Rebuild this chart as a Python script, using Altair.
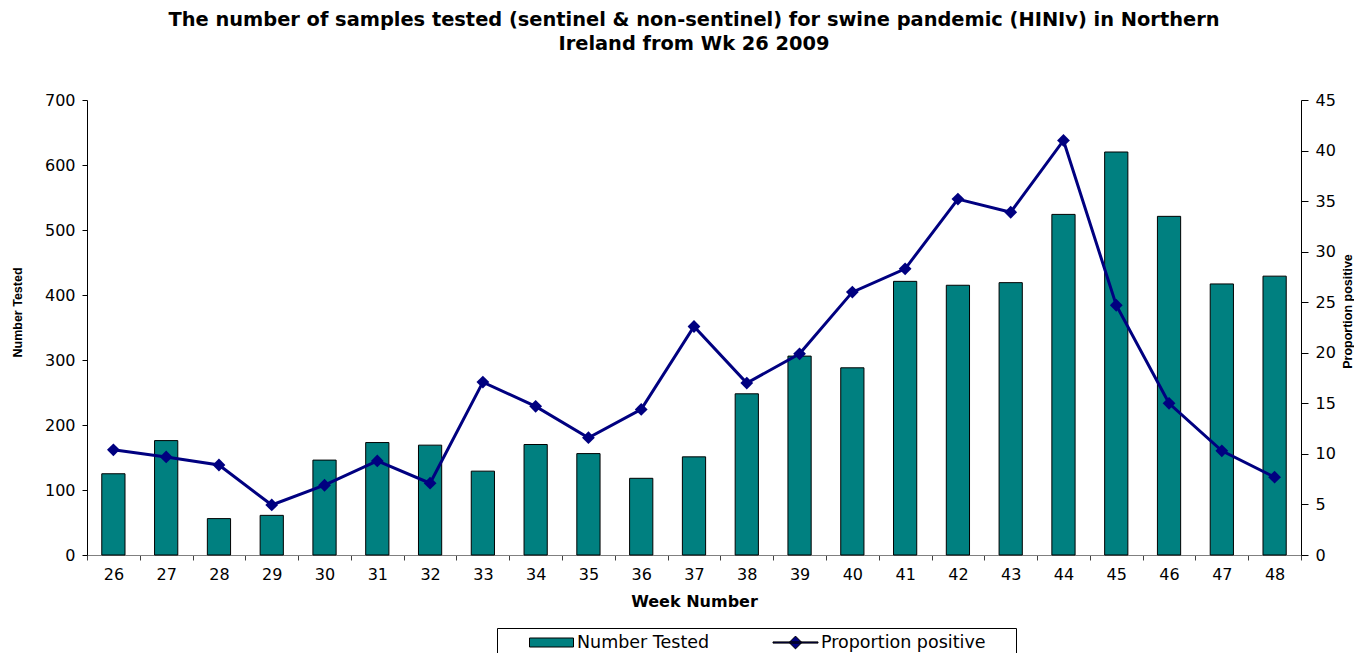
import altair as alt
import pandas as pd

weeks = [26, 27, 28, 29, 30, 31, 32, 33, 34, 35, 36, 37, 38, 39, 40, 41, 42, 43, 44, 45, 46, 47, 48]
tested = [125, 176, 56, 61, 146, 173, 169, 129, 170, 156, 118, 151, 248, 306, 288, 421, 415, 419, 524, 620, 521, 417, 429]
proportion = [10.4, 9.7, 8.9, 4.95, 6.9, 9.3, 7.1, 17.1, 14.7, 11.6, 14.4, 22.6, 17.0, 19.9, 26.0, 28.3, 35.2, 33.9, 41.0, 24.7, 15.0, 10.3, 7.7]
legend_names = ["Number Tested", "Proportion positive"]
point_key = "point"
series_colors = ["#008080", "#000080", "#000080"]
left_ticks = [0, 100, 200, 300, 400, 500, 600, 700]
right_ticks = [0, 5, 10, 15, 20, 25, 30, 35, 40, 45]
title_lines = [
    "The number of samples tested (sentinel & non-sentinel) for swine pandemic (HINIv) in Northern",
    "Ireland from Wk 26 2009",
]

df = pd.DataFrame({
    "week": weeks,
    "tested": tested,
    "proportion": proportion,
    "series": [point_key] * len(weeks),
})

LABEL_FONT = "DejaVu Sans"

# symbol shapes (unit box, drawn at size 400 -> 10px per unit)
RECT_PATH = "M-2.2,-0.45L2.2,-0.45L2.2,0.45L-2.2,0.45Z"
LINE_DIAMOND_PATH = "M-2.25,-0.06L2.25,-0.06L2.25,0.06L-2.25,0.06Z M0,-0.64L0.64,0L0,0.64L-0.64,0Z"
DIAMOND_PATH = "M0,-0.64L0.64,0L0,0.64L-0.64,0Z"

x_enc = alt.X(
    "week:O",
    scale=alt.Scale(paddingInner=0, paddingOuter=0),
    axis=alt.Axis(
        title="Week Number",
        tickBand="extent",
        labelAngle=0,
        labelFont=LABEL_FONT,
        labelFontSize=16,
        labelColor="black",
        labelPadding=6,
        tickSize=5,
        tickColor="#404040",
        domainColor="#808080",
        grid=False,
        titleFont=LABEL_FONT,
        titleFontSize=16,
        titleFontWeight="bold",
        titleColor="black",
        titleBaseline="middle",
        titleY=46,
    ),
)

right_axis = alt.Axis(
    orient="right",
    values=right_ticks,
    title="Proportion positive",
    grid=False,
    labelFont=LABEL_FONT,
    labelFontSize=16,
    labelColor="black",
    labelPadding=7,
    tickSize=7,
    tickColor="black",
    domainColor="black",
    titleFont="Liberation Sans",
    titleFontSize=12.5,
    titleFontWeight="bold",
    titleColor="black",
    titleAngle=270,
    titleBaseline="middle",
    titleAlign="center",
    titleX=46,
    titleY=211,
)

bars = alt.Chart(df).mark_bar(
    color="#008080", stroke="black", strokeWidth=1, width=alt.RelativeBandSize(0.44)
).encode(
    x=x_enc,
    y=alt.Y(
        "tested:Q",
        scale=alt.Scale(domain=[0, 700]),
        axis=alt.Axis(
            values=left_ticks,
            title="Number Tested",
            grid=False,
            labelFont=LABEL_FONT,
            labelFontSize=16,
            labelColor="black",
            labelPadding=7,
            tickSize=5,
            tickColor="black",
            domainColor="black",
            titleFont="Liberation Sans",
            titleFontSize=12.5,
            titleFontWeight="bold",
            titleColor="black",
            titleAngle=270,
            titleBaseline="middle",
            titleAlign="center",
            titleX=-70,
            titleY=212,
        ),
    ),
)

y_right = alt.Y("proportion:Q", scale=alt.Scale(domain=[0, 45]), axis=right_axis)

line = alt.Chart(df).mark_line(color="#000080", strokeWidth=3).encode(x=x_enc, y=y_right)

legend = alt.Legend(
    title=" ",
    titleOrient="left",
    titlePadding=40,
    titleFontSize=8,
    orient="none",
    legendX=410,
    legendY=528,
    direction="horizontal",
    values=legend_names,
    strokeColor="black",
    fillColor="white",
    padding=4,
    columnPadding=61,
    symbolSize=400,
    symbolStrokeColor="black",
    symbolStrokeWidth=1,
    labelFont=LABEL_FONT,
    labelFontSize=17.5,
    labelColor="black",
    labelOffset=15,
    labelLimit=400,
    labelExpr="datum.label == 'Proportion positive' ? datum.label + '\u2800\u2800' : datum.label",
)

domain_all = legend_names + [point_key]

pts = alt.Chart(df).mark_point(filled=True, opacity=1, size=400).encode(
    x=x_enc,
    y=y_right,
    shape=alt.Shape(
        "series:N",
        scale=alt.Scale(domain=domain_all, range=[RECT_PATH, LINE_DIAMOND_PATH, DIAMOND_PATH]),
        legend=legend,
    ),
    color=alt.Color(
        "series:N",
        scale=alt.Scale(domain=domain_all, range=series_colors),
        legend=legend,
    ),
)

chart = alt.layer(bars, alt.layer(line, pts)).resolve_scale(
    y="independent", x="shared"
).properties(
    width=1214,
    height=455,
    autosize=alt.AutoSizeParams(type="none"),
    padding={"left": 79, "top": 92, "right": 53, "bottom": 100},
    title=alt.TitleParams(
        text=title_lines,
        font=LABEL_FONT,
        fontSize=19.4,
        fontWeight="bold",
        color="black",
        anchor="middle",
        offset=38,
        lineHeight=24,
    ),
).configure(background="white").configure_view(
    stroke="transparent", strokeWidth=0
).configure_axis(grid=False)

chart.save("out.html", embed_options={"renderer": "svg", "actions": False})
